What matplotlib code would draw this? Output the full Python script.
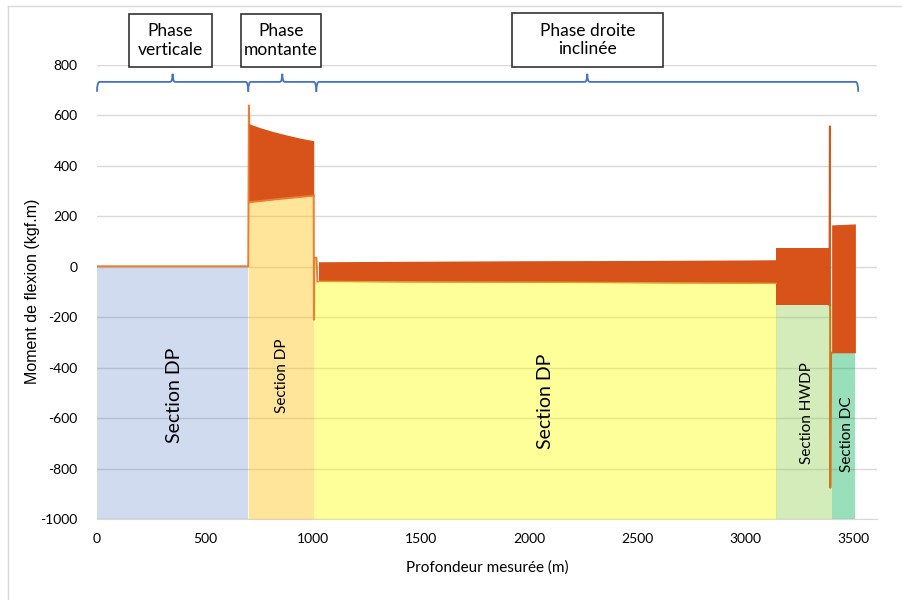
import matplotlib
matplotlib.use("Agg")
import matplotlib.pyplot as plt
from matplotlib.patches import Rectangle, PathPatch
from matplotlib.path import Path
from matplotlib.lines import Line2D

plt.rcParams['font.family'] = ['Lato', 'DejaVu Sans']
plt.rcParams['axes.unicode_minus'] = False

# ---- Bending-moment envelope along the drill string (kgf.m) ----
# Build-up (montante) section
mont_depth = [703, 760, 820, 880, 940, 1003]
mont_max = [567, 550, 535, 522, 510, 500]
mont_min = [256, 261, 267, 272, 277, 282]

# Inclined straight section (drill pipe)
incl_depth = [1025, 1500, 2000, 2500, 3000, 3143]
incl_max = [20, 22, 24, 25, 27, 28]
incl_min = [-58, -60, -61, -63, -65, -66]

# Heavy-weight drill pipe
hwdp_depth = [3143, 3392]
hwdp_max = [73, 73]
hwdp_min = [-151, -151]

# Drill collars
dc_depth = [3400, 3510]
dc_max = [166, 170]
dc_min = [-341, -341]

# Moment trace (transitions and peaks)
trace_depth = [0, 700, 703, 705, 705]
trace_moment = [2, 2, 642, 567, 256]
step_depth = [1003, 1004, 1006, 1016, 1020]
step_moment = [282, -210, 35, 35, -58]
peak_depth = [3390, 3392, 3394, 3397, 3400]
peak_moment = [-151, 555, -876, -341, -341]

# ---- String sections ----
section_labels = ['Section DP', 'Section DP', 'Section DP', 'Section HWDP', 'Section DC']
section_colors = ['#4472C4', '#FFC000', '#FFFF00', '#92D050', '#00B050']
section_alpha = [0.25, 0.4, 0.4, 0.4, 0.4]
vertical_depth = [0, 700]
vertical_top = [0, 0]

# ---- Phases of the well trajectory ----
phase_labels = ['Phase\nverticale', 'Phase\nmontante', 'Phase droite\ninclinée']
phase_start = [0, 700, 1015]
phase_end = [700, 1015, 3523]

yticks = list(range(-1000, 801, 200))
xticks = list(range(0, 3501, 500))

DARK = '#D8531A'
LINE = '#ED7D31'
GRID = '#D9D9D9'
BRACE = '#4472C4'

W, H = 902, 600
fig = plt.figure(figsize=(W / 100, H / 100), dpi=100)
ax = fig.add_axes([97 / W, 1 - 519 / H, 780 / W, 454 / H])
ax.set_xlim(0, 3610)
ax.set_ylim(-1000, 800)

# horizontal gridlines, under the translucent section fills
for yv in yticks:
    ax.axhline(yv, color=GRID, lw=1.0, zorder=0.5)

# section backgrounds
sec_x = [vertical_depth,
         [700] + mont_depth,
         [1003] + incl_depth,
         [hwdp_depth[0], dc_depth[0]],
         dc_depth]
sec_top = [vertical_top,
           [mont_min[0]] + mont_min,
           [incl_min[0]] + incl_min,
           [hwdp_min[0], hwdp_min[-1]],
           dc_min]
for xs, ys, c, a in zip(sec_x, sec_top, section_colors, section_alpha):
    ax.fill_between(xs, -1000, ys, color=c, alpha=a, lw=0, zorder=1)

# moment envelope bands
for d, lo, hi in [(mont_depth, mont_min, mont_max),
                  (incl_depth, incl_min, incl_max),
                  (hwdp_depth, hwdp_min, hwdp_max),
                  (dc_depth, dc_min, dc_max)]:
    ax.fill_between(d, lo, hi, color=DARK, lw=0, zorder=3)

# lower envelope edge lines
ax.plot(mont_depth, mont_min, color=LINE, lw=1.4, zorder=3.5)
ax.plot(incl_depth, incl_min, color='#E0A030', lw=1.0, zorder=3.5)
ax.plot(trace_depth, trace_moment, color=LINE, lw=1.4, zorder=2.5, solid_joinstyle='miter')
ax.plot(step_depth, step_moment, color=LINE, lw=1.4, zorder=2.5)
ax.plot(peak_depth[:2], peak_moment[:2], color=DARK, lw=1.4, zorder=3.5)
ax.plot(peak_depth[1:], peak_moment[1:], color='#C8781E', lw=1.4, zorder=2.5)

# axes styling
for s in ['left', 'right', 'top']:
    ax.spines[s].set_visible(False)
ax.spines['bottom'].set_color(GRID)
ax.spines['bottom'].set_zorder(0.6)
ax.set_yticks(yticks)
ax.set_xticks(xticks)
ax.tick_params(length=0, labelsize=10, colors='#000000')
ax.tick_params(axis='y', pad=14)
ax.tick_params(axis='x', pad=10)
ax.set_xlabel('Profondeur mesurée (m)', fontsize=11, labelpad=11)
fig.text(33 / W, 1 - 291 / H, 'Moment de flexion (kgf.m)', rotation=90,
         ha='center', va='center', fontsize=11.5,
         family=['Liberation Sans', 'DejaVu Sans'])

# section labels
lab_pos = [(361, -510, 14), (856, -432, 11), (2075, -535, 14), (3287, -580, 11), (3472, -662, 11)]
for t, (x, y, fs) in zip(section_labels, lab_pos):
    ax.text(x, y, t, rotation=90, ha='center', va='center', fontsize=fs, zorder=5)

# phase braces above the plot
def brace(x0, x1, y=733, drop=39, rise=32, dx=12):
    xm = (x0 + x1) / 2
    verts = [(x0, y - drop), (x0, y), (x0 + dx, y),
             (xm - dx, y), (xm, y), (xm, y + rise),
             (xm, y), (xm + dx, y),
             (x1 - dx, y), (x1, y), (x1, y - drop)]
    codes = [Path.MOVETO, Path.CURVE3, Path.CURVE3,
             Path.LINETO, Path.CURVE3, Path.CURVE3,
             Path.CURVE3, Path.CURVE3,
             Path.LINETO, Path.CURVE3, Path.CURVE3]
    ax.add_patch(PathPatch(Path(verts, codes), fill=False, ec=BRACE, lw=1.3,
                           clip_on=False, zorder=6))

for x0, x1 in zip(phase_start, phase_end):
    brace(x0, x1)

# phase boxes (figure pixel positions)
boxes = [(129, 212, 14, 67), (241, 321, 14, 67), (512, 663, 13, 67)]
for t, (l, r, tp, bt) in zip(phase_labels, boxes):
    fig.patches.append(Rectangle((l / W, 1 - bt / H), (r - l) / W, (bt - tp) / H,
                                 transform=fig.transFigure, fill=True, fc='white',
                                 ec='#333333', lw=1.2))
    fig.text((l + r) / 2 / W, 1 - (tp + bt) / 2 / H, t, ha='center', va='center',
             fontsize=12.5, linespacing=1.2)

# chart-area border
fig.add_artist(Line2D([8 / W, 8 / W], [0, 1 - 6 / H], transform=fig.transFigure,
                      color='#D9D9D9', lw=1.0))
fig.add_artist(Line2D([8 / W, 1], [1 - 6 / H, 1 - 6 / H], transform=fig.transFigure,
                      color='#D9D9D9', lw=1.0))

fig.savefig('out.png', dpi=100)
